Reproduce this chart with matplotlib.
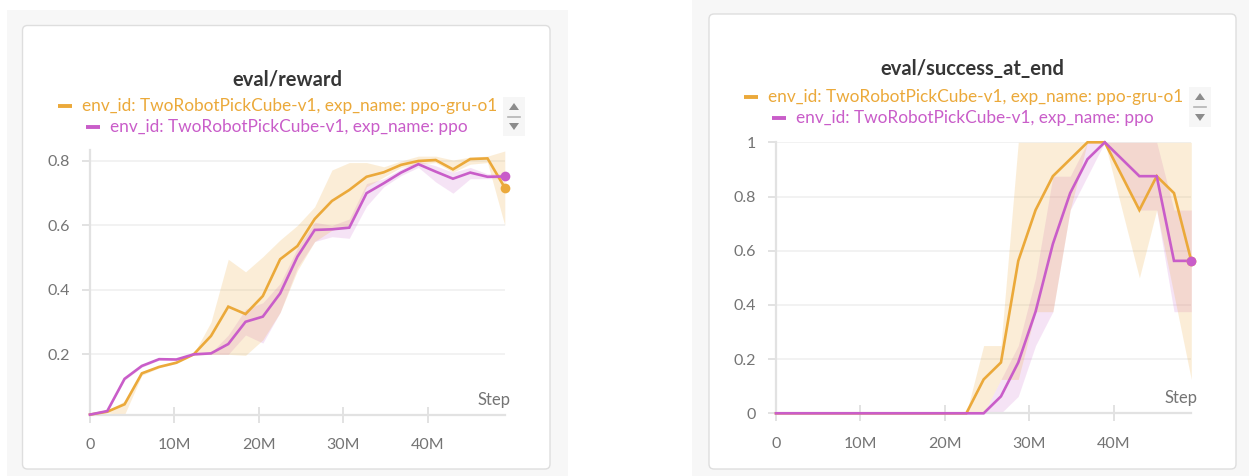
import matplotlib
matplotlib.use("Agg")
import matplotlib.pyplot as plt
from matplotlib.patches import FancyBboxPatch, Rectangle, Polygon
from matplotlib.lines import Line2D

# ---------------------------------------------------------------- data
steps_m = [0.0, 2.048, 4.096, 6.144, 8.192, 10.24, 12.288, 14.336, 16.384,
           18.432, 20.48, 22.528, 24.576, 26.624, 28.672, 30.72, 32.768,
           34.816, 36.864, 38.912, 40.96, 43.008, 45.056, 47.104, 49.152]

env_id = "TwoRobotPickCube-v1"
exp_names = ["ppo-gru-o1", "ppo"]

# eval/reward: mean with min/max band
gru_reward = [0.013, 0.022, 0.045, 0.141, 0.161, 0.174, 0.200, 0.257, 0.348,
              0.325, 0.381, 0.495, 0.536, 0.620, 0.676, 0.710, 0.751, 0.765,
              0.788, 0.800, 0.803, 0.774, 0.806, 0.808, 0.717]
gru_reward_lo = [0.013, 0.018, 0.013, 0.135, 0.158, 0.172, 0.198, 0.200, 0.200,
                 0.197, 0.245, 0.330, 0.460, 0.550, 0.585, 0.600, 0.720, 0.750,
                 0.780, 0.790, 0.795, 0.765, 0.790, 0.795, 0.600]
gru_reward_hi = [0.013, 0.026, 0.055, 0.147, 0.165, 0.178, 0.202, 0.300, 0.495,
                 0.456, 0.503, 0.555, 0.600, 0.658, 0.772, 0.795, 0.795, 0.782,
                 0.800, 0.815, 0.815, 0.803, 0.812, 0.815, 0.831]

ppo_reward = [0.013, 0.024, 0.124, 0.164, 0.185, 0.184, 0.200, 0.203, 0.232,
              0.301, 0.317, 0.389, 0.503, 0.586, 0.588, 0.593, 0.700, 0.731,
              0.764, 0.790, 0.767, 0.745, 0.764, 0.751, 0.752]
ppo_reward_lo = [0.013, 0.022, 0.120, 0.160, 0.182, 0.182, 0.198, 0.200, 0.200,
                 0.260, 0.235, 0.330, 0.470, 0.550, 0.565, 0.560, 0.660, 0.720,
                 0.755, 0.780, 0.735, 0.700, 0.745, 0.745, 0.745]
ppo_reward_hi = [0.013, 0.026, 0.128, 0.168, 0.188, 0.186, 0.202, 0.205, 0.260,
                 0.340, 0.360, 0.420, 0.530, 0.610, 0.600, 0.620, 0.730, 0.745,
                 0.775, 0.800, 0.785, 0.765, 0.780, 0.760, 0.760]

# eval/success_at_end: mean with min/max band
gru_success = [0, 0, 0, 0, 0, 0, 0, 0, 0, 0, 0, 0, 0.125, 0.1875, 0.5625,
               0.75, 0.875, 0.9375, 1.0, 1.0, 0.875, 0.75, 0.875, 0.8125, 0.5625]
gru_success_lo = [0, 0, 0, 0, 0, 0, 0, 0, 0, 0, 0, 0, 0, 0.125, 0.125,
                  0.375, 0.375, 0.75, 1.0, 1.0, 0.75, 0.5, 0.75, 0.4375, 0.125]
gru_success_hi = [0, 0, 0, 0, 0, 0, 0, 0, 0, 0, 0, 0, 0.25, 0.25, 1.0,
                  1.0, 1.0, 1.0, 1.0, 1.0, 1.0, 1.0, 1.0, 1.0, 1.0]

ppo_success = [0, 0, 0, 0, 0, 0, 0, 0, 0, 0, 0, 0, 0, 0.0625, 0.1875,
               0.375, 0.625, 0.8125, 0.9375, 1.0, 0.9375, 0.875, 0.875, 0.5625, 0.5625]
ppo_success_lo = [0, 0, 0, 0, 0, 0, 0, 0, 0, 0, 0, 0, 0, 0, 0.0625,
                  0.25, 0.375, 0.75, 0.875, 1.0, 0.875, 0.75, 0.75, 0.375, 0.375]
ppo_success_hi = [0, 0, 0, 0, 0, 0, 0, 0, 0, 0, 0, 0, 0, 0.125, 0.25,
                  0.5, 0.875, 0.875, 1.0, 1.0, 1.0, 1.0, 1.0, 0.75, 0.75]

x_ticks_m = [0, 10, 20, 30, 40]
x_tick_labels = ["0", "10M", "20M", "30M", "40M"]
reward_ticks = [0.2, 0.4, 0.6, 0.8]
reward_tick_labels = ["0.2", "0.4", "0.6", "0.8"]
success_ticks = [0, 0.2, 0.4, 0.6, 0.8, 1.0]
success_tick_labels = ["0", "0.2", "0.4", "0.6", "0.8", "1"]

# ---------------------------------------------------------------- style
ORANGE = "#EBA93A"
PURPLE = "#C95DC9"
TICK_TXT = "#747474"
AXIS_CLR = "#e2e2e2"
GRID_CLR = "#f0f0f0"
FONT = "Lato"
LEGEND_SIZE = 12.4
TICK_SIZE = 11.5
TITLE_SIZE = 14.5

W, H = 1249, 476
fig = plt.figure(figsize=(W / 100, H / 100), dpi=100)
fig.patch.set_facecolor("white")

# Pixel-space overlay for panels, titles and legends
bg = fig.add_axes([0, 0, 1, 1], zorder=0)
bg.set_xlim(0, W)
bg.set_ylim(H, 0)
bg.axis("off")

bg.add_patch(Rectangle((7, 10), 561, 466, fc="#f7f7f7", ec="none"))
bg.add_patch(Rectangle((692, 0), 557, 476, fc="#f7f7f7", ec="none"))
for (x0, y0, x1, y1) in [(22.5, 25.5, 550, 469), (709, 14, 1236, 469)]:
    bg.add_patch(FancyBboxPatch((x0, y0), x1 - x0, y1 - y0,
                                boxstyle="round,pad=0,rounding_size=5",
                                fc="white", ec="#dedede", lw=1.0))


def scroll_arrows(cx, y_up, y_dn):
    bg.add_patch(Rectangle((cx - 11, y_up - 10), 22, (y_dn - y_up) + 20,
                           fc="#f6f6f6", ec="none"))
    bg.add_patch(Polygon([[cx - 5, y_up + 3], [cx + 5, y_up + 3], [cx, y_up - 4]],
                         closed=True, fc="#8c8c8c", ec="none"))
    bg.add_patch(Polygon([[cx - 5, y_dn - 3], [cx + 5, y_dn - 3], [cx, y_dn + 4]],
                         closed=True, fc="#8c8c8c", ec="none"))
    bg.add_line(Line2D([cx - 6, cx + 6], [(y_up + y_dn) / 2] * 2,
                       color="#b5b5b5", lw=1.2))


def legend(x_dash1, y1, x_dash2, y2):
    colors = [ORANGE, PURPLE]
    for (xd, yy), name, c in zip([(x_dash1, y1), (x_dash2, y2)], exp_names, colors):
        bg.add_line(Line2D([xd, xd + 14], [yy, yy], color=c, lw=2.8,
                           solid_capstyle="butt"))
        bg.text(xd + 24, yy, f"env_id: {env_id}, exp_name: {name}",
                color=c, fontsize=LEGEND_SIZE, family=FONT, ha="left", va="center")


def make_axes(x0, x1, y_top, y_bot):
    return fig.add_axes([x0 / W, 1 - y_bot / H, (x1 - x0) / W, (y_bot - y_top) / H],
                        zorder=2)


def style_axes(ax, yticks, ylabels):
    ax.set_facecolor("none")
    for s in ("top", "right"):
        ax.spines[s].set_visible(False)
    for s in ("left", "bottom"):
        ax.spines[s].set_color(AXIS_CLR)
        ax.spines[s].set_linewidth(1.6)
    ax.set_xticks(x_ticks_m)
    ax.set_xticklabels(x_tick_labels)
    ax.set_yticks(yticks)
    ax.set_yticklabels(ylabels)
    ax.tick_params(axis="x", direction="inout", length=12, width=1.4,
                   color=AXIS_CLR, pad=11, labelsize=TICK_SIZE, labelcolor=TICK_TXT)
    ax.tick_params(axis="y", direction="out", length=5.5, width=1.4,
                   color=AXIS_CLR, pad=9, labelsize=TICK_SIZE, labelcolor=TICK_TXT)
    for lab in ax.get_xticklabels() + ax.get_yticklabels():
        lab.set_family(FONT)
    ax.yaxis.grid(True, color=GRID_CLR, lw=1.2)
    ax.set_axisbelow(True)


def draw_panel(ax, series):
    # bands first (ppo underneath, gru above), then the mean lines
    for y, lo, hi, color, alpha in reversed(series):
        ax.fill_between(steps_m, lo, hi, color=color, alpha=alpha, lw=0, zorder=1)
    for y, lo, hi, color, alpha in series:
        ax.plot(steps_m, y, color=color, lw=1.9, zorder=3, clip_on=False,
                solid_joinstyle="miter")
        ax.plot([steps_m[-1]], [y[-1]], "o", color=color, ms=7, zorder=4,
                clip_on=False, mec="none")


# ---------------------------------------------------------------- eval/reward
bg.text(287, 80, "eval/reward", fontsize=TITLE_SIZE, fontweight="bold",
        color="#363636", family=FONT, ha="center", va="center")
legend(58, 106, 86, 127)
scroll_arrows(514, 107, 126)

ax1 = make_axes(90, 504.8, 149.7, 414.6)
ax1.set_xlim(0, steps_m[-1])
ax1.set_ylim(0.013, 0.835)
style_axes(ax1, reward_ticks, reward_tick_labels)
draw_panel(ax1, [(gru_reward, gru_reward_lo, gru_reward_hi, ORANGE, 0.2),
                 (ppo_reward, ppo_reward_lo, ppo_reward_hi, PURPLE, 0.17)])
bg.text(478, 400, "Step", fontsize=12, color=TICK_TXT, family=FONT,
        ha="left", va="center")

# ---------------------------------------------------------------- eval/success_at_end
bg.text(972, 69, "eval/success_at_end", fontsize=TITLE_SIZE, fontweight="bold",
        color="#363636", family=FONT, ha="center", va="center")
legend(744, 97, 772, 118)
scroll_arrows(1200, 97, 117)

ax2 = make_axes(776, 1191.3, 142.3, 413.3)
ax2.set_xlim(0, steps_m[-1])
ax2.set_ylim(0, 1)
style_axes(ax2, success_ticks, success_tick_labels)
draw_panel(ax2, [(gru_success, gru_success_lo, gru_success_hi, ORANGE, 0.2),
                 (ppo_success, ppo_success_lo, ppo_success_hi, PURPLE, 0.17)])
bg.text(1165, 398, "Step", fontsize=12, color=TICK_TXT, family=FONT,
        ha="left", va="center")

fig.savefig("out.png", dpi=100)
